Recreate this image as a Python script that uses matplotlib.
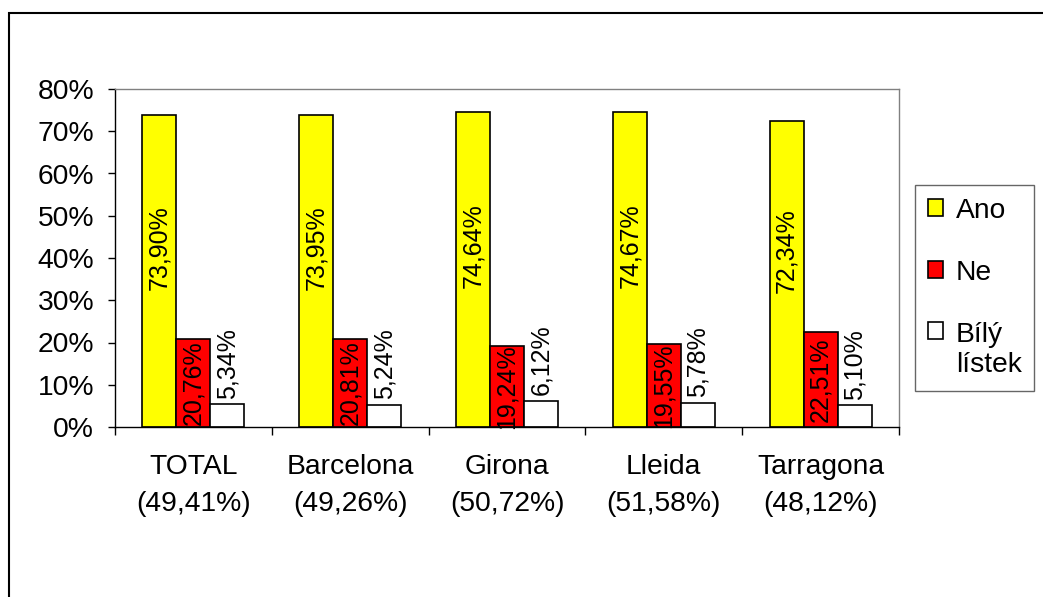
import numpy as np
import matplotlib
matplotlib.use("Agg")
import matplotlib.pyplot as plt
from matplotlib.patches import Rectangle, Patch

plt.rcParams['font.family'] = ['Liberation Sans', 'DejaVu Sans']

regions = ['TOTAL', 'Barcelona', 'Girona', 'Lleida', 'Tarragona']
turnout = ['49,41%', '49,26%', '50,72%', '51,58%', '48,12%']
ano = [73.90, 73.95, 74.64, 74.67, 72.34]
ne = [20.76, 20.81, 19.24, 19.55, 22.51]
bily = [5.34, 5.24, 6.12, 5.78, 5.10]

series_names = ['Ano', 'Ne', 'Bílý\nlístek']
colors = ['#ffff00', '#ff0000', '#ffffff']


def pct(v):
    return ('%.2f' % v).replace('.', ',') + '%'


fig = plt.figure(figsize=(10.43, 5.97), dpi=100)
ax = fig.add_axes([115 / 1043, 1 - 427 / 597, 784 / 1043, 338 / 597])

fs = 20.3
vfs = 18
w = 0.217
ind = np.arange(len(regions)) + 0.5

r1 = ax.bar(ind - w, ano, w, color=colors[0], edgecolor='black', linewidth=1.2)
r2 = ax.bar(ind, ne, w, color=colors[1], edgecolor='black', linewidth=1.2)
r3 = ax.bar(ind + w, bily, w, color=colors[2], edgecolor='black', linewidth=1.2)

# value labels, rotated like the original spreadsheet chart
for x, v in zip(ind - w, ano):
    ax.text(x, v / 2 + 5.5, pct(v), rotation=90, ha='center', va='center', fontsize=vfs)
for x, v in zip(ind, ne):
    ax.text(x, v / 2, pct(v), rotation=90, ha='center', va='center', fontsize=vfs)
for x, v in zip(ind + w, bily):
    ax.text(x, v + 1.4, pct(v), rotation=90, ha='center', va='bottom', fontsize=vfs)

ax.set_xlim(0, len(regions))
ax.set_ylim(0, 80)
ax.set_yticks(np.arange(0, 81, 10))
ax.set_yticklabels(['%d%%' % t for t in range(0, 81, 10)], fontsize=fs)
ax.tick_params(axis='y', direction='out', length=5, width=1, pad=10)

ax.set_xticks(ind)
ax.set_xticklabels(['%s\n(%s)' % (r, t) for r, t in zip(regions, turnout)],
                   fontsize=fs, linespacing=1.55)
ax.set_xticks(np.arange(len(regions) + 1), minor=True)
ax.tick_params(axis='x', which='major', length=0, pad=19.5)
ax.tick_params(axis='x', which='minor', direction='out', length=6, width=1)

for s in ['top', 'right']:
    ax.spines[s].set_color('#808080')
    ax.spines[s].set_linewidth(1)
for s in ['left', 'bottom']:
    ax.spines[s].set_color('black')
    ax.spines[s].set_linewidth(1)

handles = [Patch(facecolor=c, edgecolor='black', linewidth=1.2) for c in colors]
leg = fig.legend(handles, series_names, loc='upper left',
                 bbox_to_anchor=(915 / 1043, 1 - 185 / 597),
                 fontsize=fs, frameon=True, fancybox=False, edgecolor='#404040',
                 handlelength=0.55, handleheight=0.55, handletextpad=0.45,
                 labelspacing=1.28, borderpad=0.45, borderaxespad=0)
leg.get_frame().set_linewidth(1)
for t in leg.get_texts():
    t.set_linespacing(1.2)
# put the two-line entry's swatch next to its first line
for col in leg._legend_handle_box.get_children():
    rows = col.get_children()
    rows[-1].align = 'top'

# outer chart border
fig.patches.append(Rectangle((9 / 1043, -0.5), 2, 1.5 - 13 / 597, transform=fig.transFigure,
                             fill=False, edgecolor='black', linewidth=1.5, clip_on=False))

plt.savefig('out.png', dpi=100)
